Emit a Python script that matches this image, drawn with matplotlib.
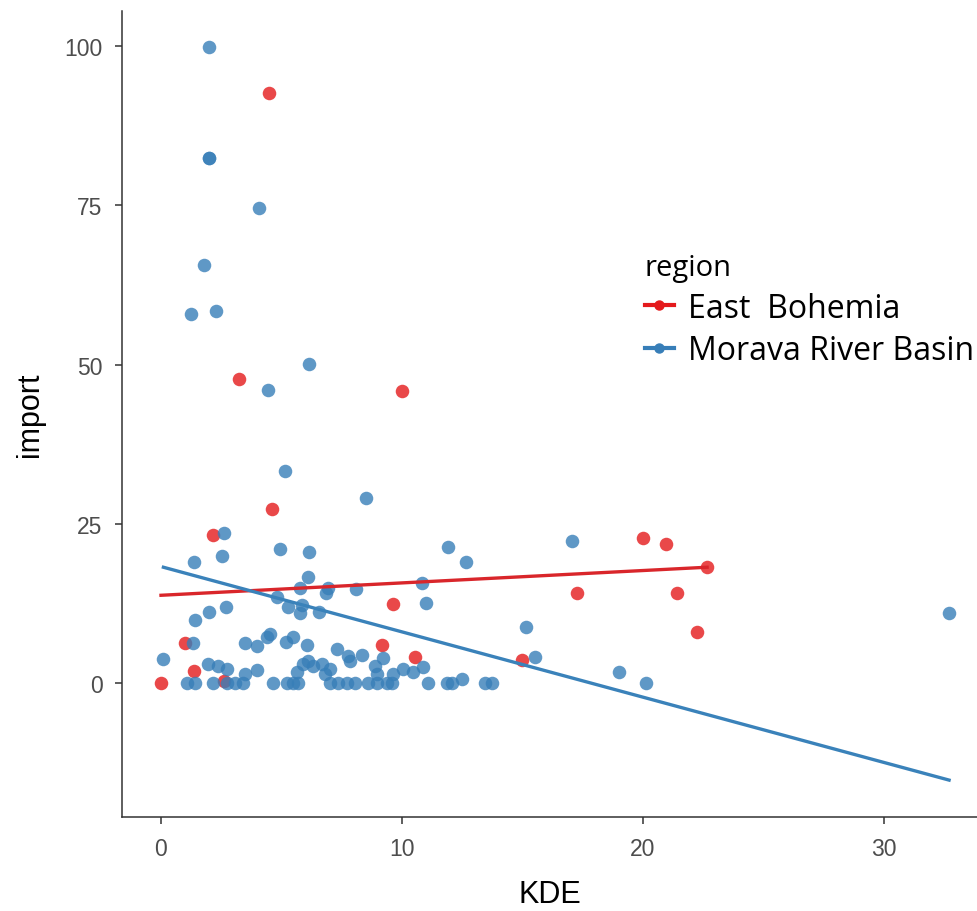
import numpy as np
import matplotlib
matplotlib.use("Agg")
from matplotlib import pyplot as plt
from matplotlib.lines import Line2D

# points per region (KDE, import)
east_kde = [0.0, 1.0, 1.37, 2.16, 2.6, 3.24, 4.48, 4.59, 9.17, 9.63, 10.0,
            10.54, 14.98, 17.26, 20.0, 20.95, 21.4, 22.24, 22.66]
east_imp = [0.0, 6.3, 1.9, 23.2, 0.3, 47.7, 92.6, 27.3, 6.0, 12.4, 45.8,
            4.1, 3.6, 14.1, 22.8, 21.8, 14.1, 8.0, 18.2]

morava_kde = [1.99, 1.99, 1.99, 4.07, 1.78, 1.24, 2.28, 6.14, 4.44, 5.15, 8.5,
              2.6, 1.37, 2.53, 4.94, 6.14, 6.1, 5.77, 6.93, 6.85, 8.09, 10.83,
              11.0, 4.81, 5.27, 5.85, 5.77, 6.56, 2.7, 1.99, 1.41, 1.33, 0.1,
              1.07, 1.4, 1.95, 2.37, 2.74, 2.16, 2.74, 3.07, 3.4, 3.49, 3.98,
              3.49, 3.98, 4.4, 4.52, 4.65, 5.19, 5.48, 6.06, 5.23, 5.48, 5.68,
              5.64, 5.9, 6.1, 6.3, 6.68, 7.0, 6.8, 7.0, 7.34, 7.7, 8.05, 7.3,
              7.76, 7.84, 8.34, 8.59, 8.96, 9.38, 9.59, 8.88, 9.21, 8.96, 9.63,
              10.04, 10.46, 10.87, 11.08, 11.9, 12.66, 17.05, 15.15, 15.52,
              19.0, 20.12, 11.87, 12.07, 12.49, 13.44, 13.73, 32.7]
morava_imp = [99.8, 82.4, 82.4, 74.6, 65.6, 57.9, 58.4, 50.1, 46.0, 33.3, 29.0,
              23.5, 19.0, 20.0, 21.0, 20.6, 16.6, 14.9, 14.9, 14.1, 14.8, 15.8,
              12.6, 13.5, 11.9, 12.2, 11.0, 11.1, 12.0, 11.1, 9.9, 6.3, 3.8,
              0, 0, 3.0, 2.7, 2.2, 0, 0, 0, 0, 1.4, 2.1,
              6.3, 5.8, 7.2, 7.7, 0, 6.4, 7.2, 6.0, 0, 0, 0,
              1.7, 3.0, 3.5, 2.7, 3.0, 2.2, 1.4, 0, 0, 0, 0, 5.3,
              4.2, 3.5, 4.4, 0, 0, 0, 0, 2.7, 3.9, 1.4, 1.4,
              2.2, 1.7, 2.5, 0, 21.4, 19.0, 22.3, 8.8, 4.1,
              1.7, 0, 0, 0, 0.6, 0, 0, 11.0]

# linear fits (ends of each fitted line)
east_fit_x = [0.0, 22.66]
east_fit_y = [13.8, 18.2]
morava_fit_x = [0.1, 32.7]
morava_fit_y = [18.2, -15.2]

regions = ["East  Bohemia", "Morava River Basin"]
colors = ["#E41A1C", "#377EB8"]

plt.rcParams["font.family"] = ["Liberation Sans", "DejaVu Sans"]

fig = plt.figure(figsize=(9.78, 9.12), dpi=100)
ax = fig.add_axes([0.1247, 0.103, 0.8753, 0.884])

ax.scatter(east_kde, east_imp, s=95, color=colors[0], alpha=0.8,
           linewidths=0, zorder=2)
ax.scatter(morava_kde, morava_imp, s=95, color=colors[1], alpha=0.8,
           linewidths=0, zorder=2)
ax.plot(east_fit_x, east_fit_y, color="#D9262B", lw=2.4, zorder=3)
ax.plot(morava_fit_x, morava_fit_y, color="#3A82BA", lw=2.4, zorder=3)

ax.set_xlim(-1.62, 33.9)
ax.set_ylim(-21.0, 105.5)
ax.set_xticks([0, 10, 20, 30])
ax.set_yticks([0, 25, 50, 75, 100])
ax.spines["top"].set_visible(False)
ax.spines["right"].set_visible(False)
for s in ("left", "bottom"):
    ax.spines[s].set_color("#333333")
    ax.spines[s].set_linewidth(1.1)
ax.tick_params(axis="both", length=5, width=1.1, color="#333333",
               labelcolor="#4D4D4D", labelsize=16.5, pad=9)
ax.set_xlabel("KDE", fontsize=22, labelpad=14)
ax.set_ylabel("import", fontsize=22, labelpad=14)

handles = [Line2D([], [], color=c, lw=3, marker="o", markersize=6.5)
           for c in colors]
leg = fig.legend(handles, regions, loc="upper left",
                 bbox_to_anchor=(645 / 978, 1 - 254 / 912),
                 frameon=False, title="region",
                 prop={"family": "Open Sans", "size": 23},
                 title_fontproperties={"family": "Open Sans", "size": 21},
                 labelspacing=0.3, handlelength=0.9, handletextpad=0.45,
                 borderaxespad=0, borderpad=0)
leg._legend_box.align = "left"

fig.savefig("out.png", dpi=100)
